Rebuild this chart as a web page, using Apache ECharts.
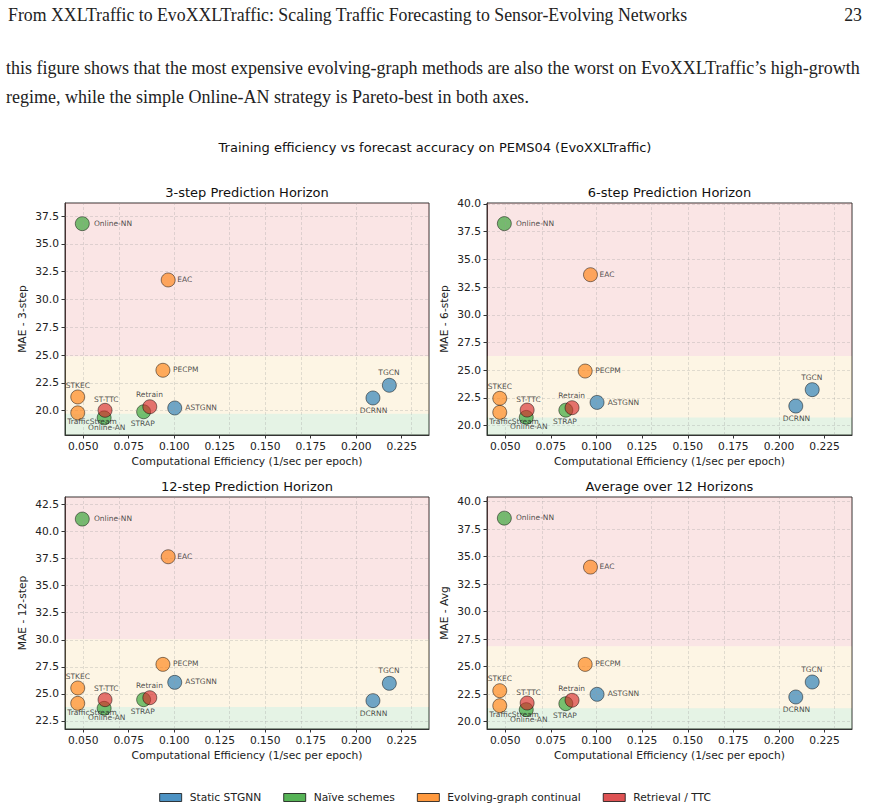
<!DOCTYPE html>
<html>
<head>
<meta charset="utf-8">
<script src="https://cdn.jsdelivr.net/npm/echarts@6/dist/echarts.min.js"></script>
<style>
  html, body { margin: 0; padding: 0; background: #fff; }
  #chart { width: 870px; height: 804px; }
</style>
</head>
<body>
<div id="chart"></div>
<script>
// methods and their group (0 static, 1 naive, 2 evolving, 3 retrieval)
const methods = ['ASTGNN', 'DCRNN', 'TGCN', 'Online-NN', 'Online-AN', 'STRAP', 'EAC', 'PECPM', 'STKEC', 'TrafficStream', 'ST-TTC', 'Retrain']
const methodGroup = [0, 0, 0, 1, 1, 1, 2, 2, 2, 2, 3, 3]
const groupNames = ['Static STGNN', 'Naïve schemes', 'Evolving-graph continual', 'Retrieval / TTC']

// computational efficiency (1/sec per epoch)
const efficiency = [0.1003, 0.2092, 0.2182, 0.0495, 0.0615, 0.0832, 0.0967, 0.0938, 0.047, 0.047, 0.062, 0.0866]

// MAE per horizon
const mae3 = [20.24, 21.14, 22.28, 36.81, 19.35, 19.9, 31.75, 23.63, 21.23, 19.8, 20.03, 20.35]
const mae6 = [22.1, 21.77, 23.25, 38.23, 20.75, 21.4, 33.62, 24.93, 22.47, 21.2, 21.41, 21.62]
const mae12 = [26.07, 24.38, 25.98, 41.15, 23.67, 24.47, 37.67, 27.73, 25.55, 24.13, 24.47, 24.65]
const maeAvg = [22.48, 22.24, 23.6, 38.49, 21.09, 21.63, 34.04, 25.2, 22.81, 21.45, 21.69, 21.94]

const panelTitles = ['3-step Prediction Horizon', '6-step Prediction Horizon', '12-step Prediction Horizon', 'Average over 12 Horizons']
const panelYNames = ['MAE - 3-step', 'MAE - 6-step', 'MAE - 12-step', 'MAE - Avg']

// band thresholds [good/ok, ok/bad] per panel
const goodLimit = [19.73, 20.75, 23.79, 21.21]
const badLimit = [24.9, 26.29, 30.04, 26.84]

// axis limits and tick labels
const xMin = 0.04
const xMax = 0.24
const xTicks = [0.05, 0.075, 0.1, 0.125, 0.15, 0.175, 0.2, 0.225]
const yMins = [17.81, 19.16, 21.76, 19.33]
const yMaxs = [38.67, 40.09, 43.19, 40.41]
const yTicks3 = [20, 22.5, 25, 27.5, 30, 32.5, 35, 37.5]
const yTicks6 = [20, 22.5, 25, 27.5, 30, 32.5, 35, 37.5, 40]
const yTicks12 = [22.5, 25, 27.5, 30, 32.5, 35, 37.5, 40, 42.5]
const yTicksAvg = [20, 22.5, 25, 27.5, 30, 32.5, 35, 37.5, 40]

const header = 'From XXLTraffic to EvoXXLTraffic: Scaling Traffic Forecasting to Sensor-Evolving Networks'
const pageNumber = '23'
const bodyLines = [
  'this figure shows that the most expensive evolving-graph methods are also the worst on EvoXXLTraffic\u2019s high-growth',
  'regime, while the simple Online-AN strategy is Pareto-best in both axes.'
]
const suptitle = 'Training efficiency vs forecast accuracy on PEMS04 (EvoXXLTraffic)'
const xName = 'Computational Efficiency (1/sec per epoch)'

const panelValues = [mae3, mae6, mae12, maeAvg]
const panelYTicks = [yTicks3, yTicks6, yTicks12, yTicksAvg]

// styling
const groupColors = ['#1f77b4', '#2ca02c', '#ff7f0e', '#d62728']
const groupFill = ['rgba(31,119,180,0.8)', 'rgba(44,160,44,0.8)', 'rgba(255,127,14,0.8)', 'rgba(214,39,40,0.8)']
const sansFont = '"DejaVu Sans", sans-serif'
const serifFont = '"Liberation Serif", "DejaVu Serif", serif'
const tickSize = 10.7

const gridBoxes = [
  { left: 65, top: 203, width: 364, height: 232 },
  { left: 487, top: 203, width: 365, height: 232 },
  { left: 65, top: 497, width: 364, height: 232 },
  { left: 487, top: 497, width: 365, height: 232 }
]

// label anchor relative to the 14px symbol box (centre at 7,7)
const labelPlacement = {
  'Online-NN': { pos: [19, 7], align: 'left' },
  'EAC': { pos: [16.5, 7], align: 'left' },
  'PECPM': { pos: [17.5, 7], align: 'left' },
  'ASTGNN': { pos: [18, 7], align: 'left' },
  'STKEC': { pos: [7.5, -4.5], align: 'center' },
  'ST-TTC': { pos: [8.7, -3.5], align: 'center' },
  'Retrain': { pos: [7, -4.8], align: 'center' },
  'TGCN': { pos: [7, -5], align: 'center' },
  'STRAP': { pos: [6.5, 19], align: 'center' },
  'DCRNN': { pos: [8, 20.3], align: 'center' },
  'Online-AN': { pos: [10, 16.8], align: 'center' },
  'TrafficStream': { pos: [21.7, 16.3], align: 'center' }
}

function fmtY(v) {
  return Number(v).toFixed(1)
}

function fmtX(v) {
  return Number(v).toFixed(3)
}

const grids = gridBoxes.map(box => ({
  ...box,
  show: true,
  backgroundColor: '#fff',
  borderColor: '#333',
  borderWidth: 1
}))

const xAxes = gridBoxes.map((box, i) => ({
  type: 'value',
  gridIndex: i,
  min: xMin,
  max: xMax,
  name: xName,
  nameLocation: 'middle',
  nameGap: 21,
  nameTextStyle: { fontFamily: sansFont, fontSize: tickSize, color: '#222' },
  axisLine: { show: true, lineStyle: { color: '#333', width: 1 } },
  axisTick: { show: true, length: 3.5, lineStyle: { color: '#333' }, customValues: xTicks },
  axisLabel: {
    customValues: xTicks,
    formatter: fmtX,
    fontFamily: sansFont,
    fontSize: tickSize,
    color: '#222',
    margin: 6
  },
  splitLine: { show: false }
}))

const yAxes = gridBoxes.map((box, i) => ({
  type: 'value',
  gridIndex: i,
  min: yMins[i],
  max: yMaxs[i],
  name: panelYNames[i],
  nameLocation: 'middle',
  nameGap: 37,
  nameRotate: 90,
  nameTextStyle: { fontFamily: sansFont, fontSize: tickSize, color: '#222' },
  axisLine: { show: true, lineStyle: { color: '#333', width: 1 } },
  axisTick: { show: true, length: 3.5, lineStyle: { color: '#333' }, customValues: panelYTicks[i] },
  axisLabel: {
    customValues: panelYTicks[i],
    formatter: fmtY,
    fontFamily: sansFont,
    fontSize: tickSize,
    color: '#222',
    margin: 6
  },
  splitLine: { show: false }
}))

const series = []

panelValues.forEach((values, p) => {
  // background bands and dashed grid
  series.push({
    type: 'scatter',
    xAxisIndex: p,
    yAxisIndex: p,
    data: [],
    silent: true,
    z: 1,
    markArea: {
      silent: true,
      data: [
        [{ yAxis: yMins[p], itemStyle: { color: 'rgba(44,160,44,0.12)' } }, { yAxis: goodLimit[p] }],
        [{ yAxis: goodLimit[p], itemStyle: { color: 'rgba(240,180,50,0.13)' } }, { yAxis: badLimit[p] }],
        [{ yAxis: badLimit[p], itemStyle: { color: 'rgba(214,39,40,0.12)' } }, { yAxis: yMaxs[p] }]
      ]
    },
    markLine: {
      silent: true,
      symbol: ['none', 'none'],
      label: { show: false },
      lineStyle: { type: [3, 2], color: 'rgba(150,150,150,0.4)', width: 0.7 },
      data: xTicks.map(v => ({ xAxis: v })).concat(panelYTicks[p].map(v => ({ yAxis: v })))
    }
  })

  groupNames.forEach((groupName, g) => {
    const data = []
    methods.forEach((m, k) => {
      if (methodGroup[k] !== g) return
      const place = labelPlacement[m]
      data.push({
        name: m,
        value: [efficiency[k], values[k]],
        label: {
          position: place.pos,
          align: place.align,
          verticalAlign: 'middle'
        }
      })
    })
    series.push({
      name: groupName,
      type: 'scatter',
      xAxisIndex: p,
      yAxisIndex: p,
      z: 3 + g,
      symbol: 'circle',
      symbolSize: 14,
      itemStyle: {
        color: groupFill[g],
        borderColor: 'rgba(0,0,0,0.75)',
        borderWidth: 0.8
      },
      label: {
        show: true,
        formatter: '{b}',
        fontFamily: sansFont,
        fontSize: 7.5,
        color: '#222'
      },
      labelLayout: { hideOverlap: false },
      data
    })
  })
})

const graphics = [
  { type: 'text', x: 8, y: 15, style: { text: header, font: '17.8px ' + serifFont, fill: '#222', textVerticalAlign: 'middle' } },
  { type: 'text', x: 862, y: 15, style: { text: pageNumber, font: '17.8px ' + serifFont, fill: '#222', textAlign: 'right', textVerticalAlign: 'middle' } },
  { type: 'text', x: 6, y: 68, style: { text: bodyLines[0], font: '18px ' + serifFont, fill: '#222', textVerticalAlign: 'middle' } },
  { type: 'text', x: 6, y: 97, style: { text: bodyLines[1], font: '18px ' + serifFont, fill: '#222', textVerticalAlign: 'middle' } },
  { type: 'text', x: 435, y: 147, style: { text: suptitle, font: '13px ' + sansFont, fill: '#111', textAlign: 'center', textVerticalAlign: 'middle' } }
]

gridBoxes.forEach((box, i) => {
  graphics.push({
    type: 'text',
    x: box.left + box.width / 2,
    y: box.top - 11,
    style: { text: panelTitles[i], font: '13px ' + sansFont, fill: '#111', textAlign: 'center', textVerticalAlign: 'middle' }
  })
})

const option = {
  animation: false,
  backgroundColor: '#fff',
  grid: grids,
  xAxis: xAxes,
  yAxis: yAxes,
  legend: {
    top: 787,
    left: 'center',
    icon: 'rect',
    itemWidth: 22,
    itemHeight: 8,
    itemGap: 22,
    textStyle: { fontFamily: sansFont, fontSize: tickSize, color: '#222', padding: [0, 0, 0, 3] },
    data: groupNames.map((n, g) => ({
      name: n,
      itemStyle: { color: groupColors[g], borderColor: '#111', borderWidth: 1 }
    }))
  },
  graphic: graphics,
  series
}

const chart = echarts.init(document.getElementById('chart'), null, { renderer: 'svg' })
chart.setOption(option)
window.addEventListener('resize', () => chart.resize())
</script>
</body>
</html>
